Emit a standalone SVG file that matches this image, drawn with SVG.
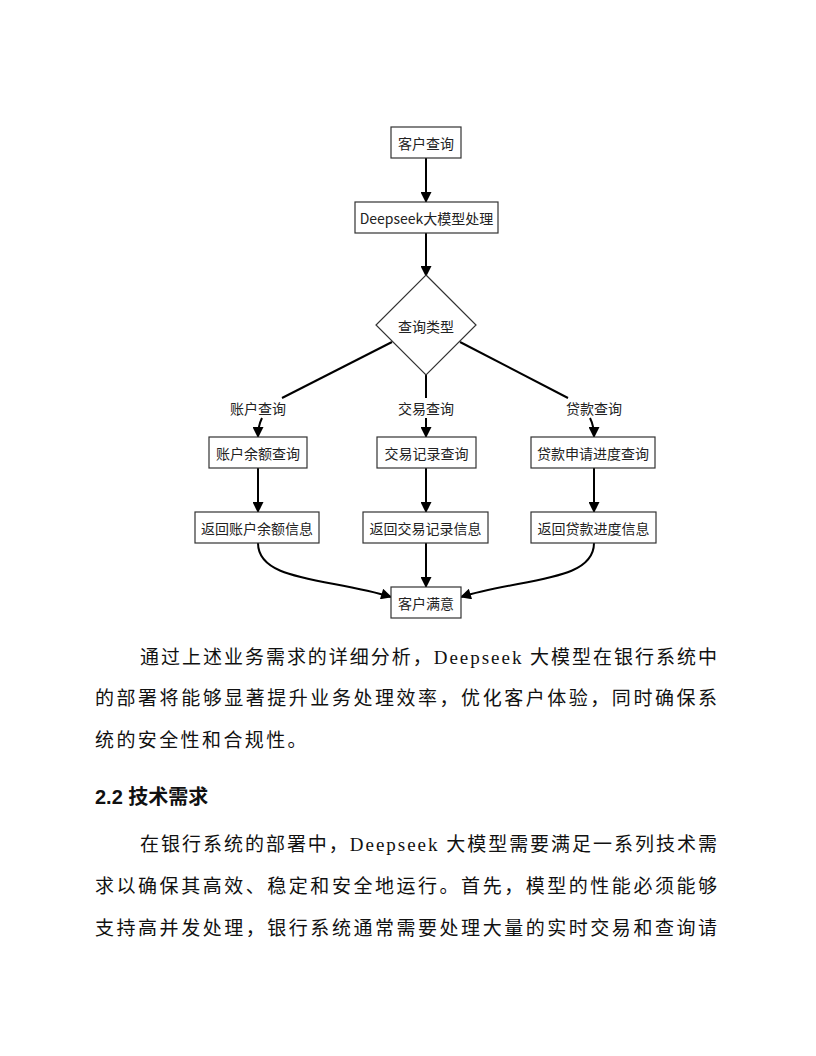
<svg xmlns="http://www.w3.org/2000/svg" width="816" height="1056" viewBox="0 0 816 1056">
<defs>
<marker id="ah" viewBox="0 0 10 10" refX="9" refY="5" markerWidth="12" markerHeight="11" markerUnits="userSpaceOnUse" orient="auto">
<path d="M0,0 L10,5 L0,10 z" fill="#000"/>
</marker>
<style>
.box{fill:#fff;stroke:#333;stroke-width:1.2}
.lbl{font-family:"Noto Sans CJK SC","Microsoft YaHei",sans-serif;font-size:14px;fill:#222;text-anchor:middle;dominant-baseline:central}
.edge{fill:none;stroke:#000;stroke-width:2}
.arr{marker-end:url(#ah)}
.elbl{font-family:"Noto Sans CJK SC",sans-serif;font-size:14px;fill:#222;text-anchor:middle;dominant-baseline:central}
.body{font-family:"Liberation Serif","Noto Sans CJK SC",serif;font-size:19px;fill:#111}
.h{font-family:"Liberation Sans","Noto Sans CJK SC",sans-serif;font-size:20px;font-weight:bold;fill:#111}
</style>
</defs>
<rect width="816" height="1056" fill="#fff"/>

<g id="connectors">
<line class="edge arr" x1="426" y1="158" x2="426" y2="202"/>
<line class="edge arr" x1="426" y1="233" x2="426" y2="276"/>
<line class="edge" x1="392" y1="342" x2="282" y2="398"/>
<path class="edge arr" d="M262,418 Q258,426 258,437"/>
<line class="edge" x1="426" y1="375" x2="426" y2="398"/>
<line class="edge arr" x1="426" y1="418" x2="426" y2="437"/>
<line class="edge" x1="460" y1="342" x2="568" y2="398"/>
<path class="edge arr" d="M590,418 Q594,426 594,437"/>
<line class="edge arr" x1="258" y1="468" x2="258" y2="512"/>
<line class="edge arr" x1="426" y1="468" x2="426" y2="512"/>
<line class="edge arr" x1="594" y1="468" x2="594" y2="512"/>
<path class="edge arr" d="M258,543 C258,582 330,578 391,597"/>
<line class="edge arr" x1="426" y1="543" x2="426" y2="587"/>
<path class="edge arr" d="M594,543 C594,582 522,578 461,597"/>
<text class="elbl" x="258" y="408">账户查询</text>
<text class="elbl" x="426" y="408">交易查询</text>
<text class="elbl" x="594" y="408">贷款查询</text>
</g>

<g id="n1"><rect class="box" x="391" y="127" width="70" height="31"/><text class="lbl" x="426" y="143">客户查询</text></g>
<g id="n2"><rect class="box" x="355" y="202" width="143" height="31"/><text class="lbl" x="426.5" y="218">Deepseek大模型处理</text></g>
<g id="n3"><path class="box" d="M426,275 L476,325 L426,375 L376,325 z"/><text class="lbl" x="426" y="326">查询类型</text></g>
<g id="n4"><rect class="box" x="209" y="437" width="98" height="31"/><text class="lbl" x="258" y="453">账户余额查询</text></g>
<g id="n5"><rect class="box" x="377" y="437" width="99" height="31"/><text class="lbl" x="426.5" y="453">交易记录查询</text></g>
<g id="n6"><rect class="box" x="531" y="437" width="124" height="31"/><text class="lbl" x="593" y="453">贷款申请进度查询</text></g>
<g id="n7"><rect class="box" x="195" y="512" width="124" height="31"/><text class="lbl" x="257" y="528">返回账户余额信息</text></g>
<g id="n8"><rect class="box" x="363" y="512" width="125" height="31"/><text class="lbl" x="425.5" y="528">返回交易记录信息</text></g>
<g id="n9"><rect class="box" x="531" y="512" width="125" height="31"/><text class="lbl" x="593.5" y="528">返回贷款进度信息</text></g>
<g id="n10"><rect class="box" x="391" y="587" width="70" height="31"/><text class="lbl" x="426" y="603">客户满意</text></g>

<g id="text">
<text class="body" x="140" y="664" textLength="577" lengthAdjust="spacing">通过上述业务需求的详细分析，Deepseek 大模型在银行系统中</text>
<text class="body" x="95" y="705" textLength="622" lengthAdjust="spacing">的部署将能够显著提升业务处理效率，优化客户体验，同时确保系</text>
<text class="body" x="95" y="747" letter-spacing="2.4">统的安全性和合规性。</text>
<text class="h" x="95" y="804">2.2 技术需求</text>
<text class="body" x="140" y="851" textLength="577" lengthAdjust="spacing">在银行系统的部署中，Deepseek 大模型需要满足一系列技术需</text>
<text class="body" x="95" y="893" textLength="622" lengthAdjust="spacing">求以确保其高效、稳定和安全地运行。首先，模型的性能必须能够</text>
<text class="body" x="95" y="935" textLength="622" lengthAdjust="spacing">支持高并发处理，银行系统通常需要处理大量的实时交易和查询请</text>
</g>
</svg>
